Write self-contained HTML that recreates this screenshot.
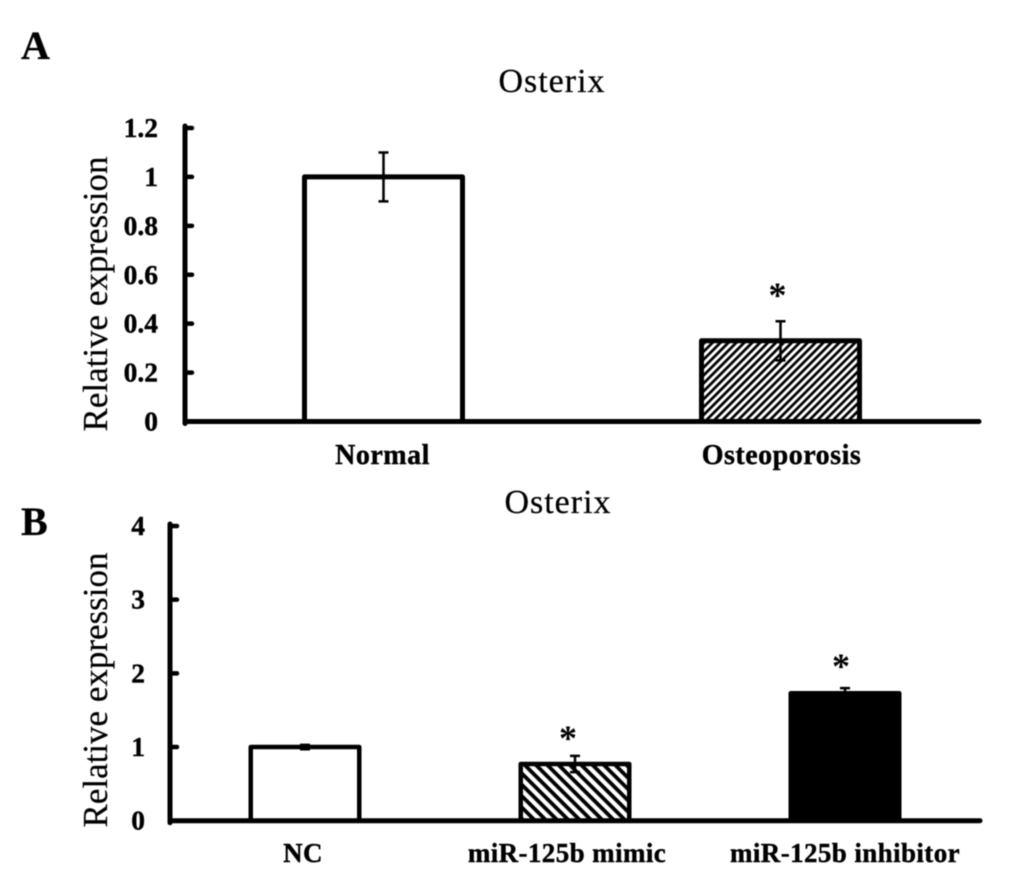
<!DOCTYPE html>
<html lang="en">
<head>
<meta charset="utf-8">
<title>Osterix relative expression</title>
<style>
html,body{margin:0;padding:0;background:#fff;width:1033px;height:890px;overflow:hidden}
svg{display:block;filter:blur(0.5px)}
text{font-family:"Liberation Serif",serif;fill:#000}
.panel{font-weight:bold;font-size:40px;stroke:#000;stroke-width:.3px}
.title{font-size:34px;letter-spacing:1px;text-anchor:middle;stroke:#000;stroke-width:.25px}
.ytitle{font-size:35px;text-anchor:middle;stroke:#000;stroke-width:.2px}
.tick{font-weight:bold;font-size:27.5px;text-anchor:end;stroke:#000;stroke-width:.4px}
.xa{font-weight:bold;font-size:28px;letter-spacing:.5px;text-anchor:middle;stroke:#000;stroke-width:.4px}
.xb{font-weight:bold;font-size:27px;letter-spacing:.4px;text-anchor:middle;stroke:#000;stroke-width:.4px}
.star{font-weight:bold;font-size:36px;text-anchor:middle}
</style>
</head>
<body>
<svg id="figure" width="1033" height="890" viewBox="0 0 1033 890" xmlns="http://www.w3.org/2000/svg">
  <defs>
    <pattern id="hatch-up" width="5.6" height="5.6" patternUnits="userSpaceOnUse" patternTransform="rotate(-45)">
      <rect width="5.6" height="5.6" fill="#fff"/>
      <rect width="5.6" height="2.7" fill="#000"/>
    </pattern>
    <pattern id="hatch-down" width="8" height="8" patternUnits="userSpaceOnUse" patternTransform="rotate(45)">
      <rect width="8" height="8" fill="#fff"/>
      <rect width="8" height="3.8" fill="#000"/>
    </pattern>
  </defs>
  <rect width="1033" height="890" fill="#fff"/>
  <text class="panel" x="21" y="59">A</text>
  <text class="panel" x="21" y="535">B</text>
  <text class="title" x="552" y="92">Osterix</text>
  <text class="title" x="558" y="513">Osterix</text>
  <text class="ytitle" transform="translate(107 294) rotate(-90)">Relative expression</text>
  <text class="ytitle" transform="translate(107 690) rotate(-90)">Relative expression</text>
  <g id="chart-a"></g>
  <g id="chart-b"></g>
</svg>
<script>
// Panel A data
const categoriesA = ['Normal', 'Osteoporosis'];
const valuesA = [1.0, 0.33];
const errorsUpA = [0.10, 0.08];
const errorsDownA = [0.10, 0.08];
const significantA = [false, true];
const ticksA = [0, 0.2, 0.4, 0.6, 0.8, 1, 1.2];
const tickLabelsA = ['0', '0.2', '0.4', '0.6', '0.8', '1', '1.2'];

// Panel B data
const categoriesB = ['NC', 'miR-125b mimic', 'miR-125b inhibitor'];
const valuesB = [1.0, 0.77, 1.73];
const errorsUpB = [0.03, 0.11, 0.07];
const errorsDownB = [0.03, 0.11, 0.07];
const significantB = [false, true, true];
const ticksB = [0, 1, 2, 3, 4];
const tickLabelsB = ['0', '1', '2', '3', '4'];

const NS = 'http://www.w3.org/2000/svg';

function make(parent, tag, attrs, text) {
  const el = document.createElementNS(NS, tag);
  for (const k in attrs) el.setAttribute(k, attrs[k]);
  if (text !== undefined) el.textContent = text;
  parent.appendChild(el);
  return el;
}

function drawChart(cfg) {
  const g = document.getElementById(cfg.id);
  const y = v => cfg.y0 - (v / cfg.max) * (cfg.y0 - cfg.yTop);
  const band = (cfg.xRight - cfg.xAxis) / cfg.categories.length;
  const cx = i => cfg.xAxis + band * (i + 0.5);

  cfg.values.forEach((v, i) => {
    const left = cx(i) - cfg.barWidth / 2 + cfg.stroke / 2;
    const width = cfg.barWidth - cfg.stroke;
    const bar = make(g, 'rect', {
      x: left, y: y(v), width: width, height: y(0) - y(v),
      fill: cfg.fills[i], stroke: '#000', 'stroke-width': cfg.stroke, 'stroke-linejoin': 'round'
    });
    
    

    const errorHigh = y(v + cfg.errorsUp[i]);
    const errorLow = y(v - cfg.errorsDown[i]);
    const errorBar = make(g, 'path', {
      d: 'M' + (cx(i) - 5) + ' ' + errorHigh + 'H' + (cx(i) + 5) +
         'M' + cx(i) + ' ' + errorHigh + 'V' + errorLow +
         'M' + (cx(i) - 5) + ' ' + errorLow + 'H' + (cx(i) + 5),
      fill: 'none', stroke: '#000', 'stroke-width': 2.5
    });
    
    

    if (cfg.significant[i]) {
      const star = make(g, 'text', {
        class: 'star', x: cx(i) + cfg.starDx[i], y: errorHigh - cfg.starGap[i]
      }, '*');
      
      
    }

    const label = make(g, 'text', {
      class: cfg.labelClass, x: cx(i) + cfg.labelDx[i], y: cfg.labelY
    }, cfg.categories[i]);
    
    
  });

  const yAxis = make(g, 'line', {
    x1: cfg.xAxis, x2: cfg.xAxis, y1: y(cfg.max) - 2, y2: y(0) + 2,
    stroke: '#000', 'stroke-width': 5, 'stroke-linecap': 'round'
  });
  
  

  const xAxis = make(g, 'line', {
    x1: cfg.xAxis, x2: cfg.xRight, y1: y(0), y2: y(0),
    stroke: '#000', 'stroke-width': 5, 'stroke-linecap': 'round'
  });
  
  

  cfg.ticks.forEach((t, i) => {
    const tick = make(g, 'line', {
      x1: cfg.xAxis, x2: cfg.xAxis + 7, y1: y(t), y2: y(t),
      stroke: '#000', 'stroke-width': 4.5, 'stroke-linecap': 'round'
    });
    
    

    const tickLabel = make(g, 'text', {
      class: 'tick', x: cfg.tickLabelX, y: y(t) + 9
    }, cfg.tickLabels[i]);
    
    
  });
}

drawChart({
  id: 'chart-a', categories: categoriesA, values: valuesA,
  errorsUp: errorsUpA, errorsDown: errorsDownA, significant: significantA,
  ticks: ticksA, tickLabels: tickLabelsA, max: 1.2,
  xAxis: 185, xRight: 979, y0: 421.5, yTop: 128,
  barWidth: 163, stroke: 5, fills: ['#fff', 'url(#hatch-up)'],
  tickLabelX: 158, labelClass: 'xa', labelY: 464, labelDx: [-1, 1],
  starDx: [0, -3], starGap: [0, 14]
});

drawChart({
  id: 'chart-b', categories: categoriesB, values: valuesB,
  errorsUp: errorsUpB, errorsDown: errorsDownB, significant: significantB,
  ticks: ticksB, tickLabels: tickLabelsB, max: 4,
  xAxis: 170, xRight: 980, y0: 820.7, yTop: 526,
  barWidth: 113, stroke: 4.5, fills: ['#fff', 'url(#hatch-down)', '#000'],
  tickLabelX: 145, labelClass: 'xb', labelY: 862, labelDx: [-2, -8, 0],
  starDx: [0, -7, -4], starGap: [0, 6, 10]
});
</script>
</body>
</html>
